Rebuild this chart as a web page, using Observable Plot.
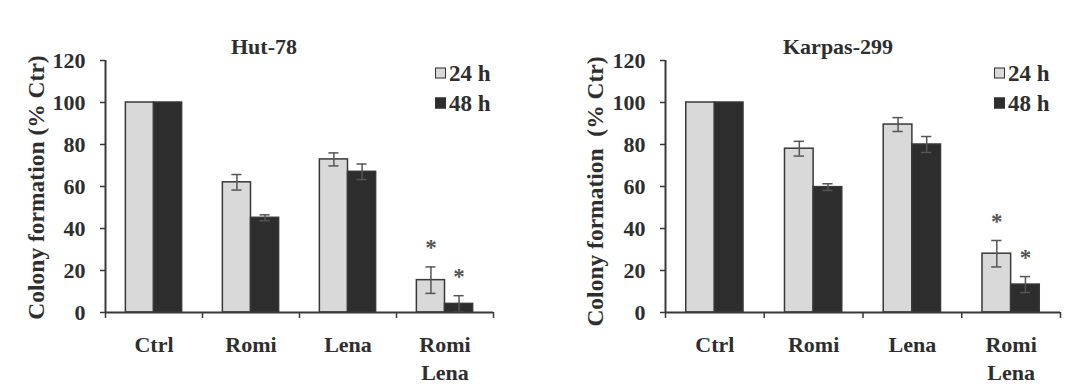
<!DOCTYPE html>
<html><head><meta charset="utf-8">
<script src="https://cdn.jsdelivr.net/npm/d3@7"></script>
<script src="https://cdn.jsdelivr.net/npm/@observablehq/plot@0.6"></script>
<style>
body{margin:0;background:#fff;}
#wrap{position:relative;width:1080px;height:384px;overflow:hidden;font-family:"Liberation Serif","DejaVu Serif",serif;font-weight:bold;color:#2e2e2e;background:#fff;}
.panel{position:absolute;top:0;width:540px;height:384px;}
.title{position:absolute;font-size:22px;transform:translate(-50%,-50%);white-space:nowrap;line-height:1;}
.leg{position:absolute;font-size:23px;display:flex;align-items:center;white-space:nowrap;transform:translateY(-50%);line-height:1;}
.sw{width:9px;height:9px;border:1.5px solid #333;margin-right:3px;}
</style></head>
<body><div id="wrap"></div>
<script>
const categories = ["Ctrl", "Romi", "Lena", "Romi\nLena"];
const seriesNames = ["24 h", "48 h"];
const yTicks = [0, 20, 40, 60, 80, 100, 120];

const hut24 = [100, 62.0, 72.9, 15.4];
const hut24Err = [0, 3.7, 3.1, 6.3];
const hut48 = [100, 45.1, 67.0, 4.1];
const hut48Err = [0, 1.4, 3.7, 3.9];
const hut24Sig = [false, false, false, true];
const hut48Sig = [false, false, false, true];

const kar24 = [100, 78.0, 89.5, 28.0];
const kar24Err = [0, 3.5, 3.3, 6.3];
const kar48 = [100, 59.7, 80.0, 13.3];
const kar48Err = [0, 1.6, 3.8, 3.8];
const kar24Sig = [false, false, false, true];
const kar48Sig = [false, false, false, true];

const FONT = '"Liberation Serif", "DejaVu Serif", serif';
const LIGHT = "#d9d9d9", DARK = "#2d2d2d", INK = "#383838", TXT = "#2e2e2e";
const W = 0.29;

function rowsFor(v24, e24, s24, v48, e48, s48) {
  const rows = [];
  categories.forEach((c, i) => {
    rows.push({cat: c, i, s: 0, value: v24[i], err: e24[i], sig: s24[i]});
    rows.push({cat: c, i, s: 1, value: v48[i], err: e48[i], sig: s48[i]});
  });
  return rows;
}
const ctr = d => d.i + 0.5 + (d.s === 0 ? -W / 2 : W / 2);

function panel(cfg) {
  const rows = rowsFor(cfg.v24, cfg.e24, cfg.s24, cfg.v48, cfg.e48, cfg.s48);
  const errRows = rows.filter(d => d.err > 0);
  const txt = {fontFamily: FONT, fontWeight: "bold", fill: TXT};
  return Plot.plot({
    width: 540, height: 384,
    marginLeft: cfg.marginLeft, marginRight: cfg.marginRight, marginTop: 60, marginBottom: 72,
    x: {type: "linear", domain: [0, 4], axis: null},
    y: {domain: [0, 120], axis: null},
    style: `font-family: ${FONT}; font-weight: bold; font-size: 21px; color: ${TXT}; background: transparent; overflow: visible;`,
    marks: [
      Plot.rectY(rows, {
        x1: d => d.i + 0.5 + (d.s === 0 ? -W : 0),
        x2: d => d.i + 0.5 + (d.s === 0 ? 0 : W),
        y1: 0, y2: "value",
        fill: d => d.s === 0 ? LIGHT : DARK,
        stroke: INK, strokeWidth: 1.5
      }),
      Plot.ruleX(errRows, {x: ctr, y1: d => d.value - d.err, y2: d => d.value + d.err, stroke: "#555", strokeWidth: 1.5}),
      Plot.ruleY(errRows, {y: d => d.value + d.err, x1: d => ctr(d) - 0.052, x2: d => ctr(d) + 0.052, stroke: "#555", strokeWidth: 1.5}),
      Plot.ruleY(errRows, {y: d => d.value - d.err, x1: d => ctr(d) - 0.052, x2: d => ctr(d) + 0.052, stroke: "#555", strokeWidth: 1.5}),
      Plot.text(rows.filter(d => d.sig), {x: ctr, y: d => d.value + d.err, text: () => "*", dy: -19, ...txt, fontSize: 23, fill: "#555"}),
      Plot.ruleX([0], {y1: 0, y2: 120, stroke: INK, strokeWidth: 2}),
      Plot.ruleY([0], {x1: 0, x2: 4, stroke: INK, strokeWidth: 2}),
      Plot.axisY({ticks: yTicks, tickSize: 5, tickFormat: () => "", label: null, stroke: INK, strokeWidth: 1.5}),
      Plot.text(yTicks, {frameAnchor: "left", y: d => d, text: d => String(d), textAnchor: "end", dx: -20, ...txt, fontSize: 22}),
      Plot.axisX({ticks: [0, 1, 2, 3, 4], tickSize: 6, tickFormat: () => "", label: null, stroke: INK, strokeWidth: 1.5}),
      Plot.text(categories, {x: (d, i) => i + 0.5, y: 0, text: d => d, lineAnchor: "top", dy: 20, lineHeight: 1.27, ...txt, fontSize: 22}),
      Plot.text([cfg.yLabel], {frameAnchor: "left", textAnchor: "middle", rotate: -90, dx: cfg.labelDx, dy: cfg.labelDy, text: d => d, ...txt, fontSize: 23.5})
    ]
  });
}

const panels = [
  {left: 0, title: "Hut-78", titleX: 264, legendX: 435, marginLeft: 105, marginRight: 47,
   yLabel: "Colony formation (% Ctr)", labelDx: -69, labelDy: 1,
   v24: hut24, e24: hut24Err, s24: hut24Sig, v48: hut48, e48: hut48Err, s48: hut48Sig},
  {left: 540, title: "Karpas-299", titleX: 838, legendX: 994, marginLeft: 125, marginRight: 20,
   yLabel: "Colony formation\u00a0 (% Ctr)", labelDx: -70, labelDy: 5,
   v24: kar24, e24: kar24Err, s24: kar24Sig, v48: kar48, e48: kar48Err, s48: kar48Sig}
];

const wrap = document.getElementById("wrap");
panels.forEach(cfg => {
  const div = document.createElement("div");
  div.className = "panel";
  div.style.left = cfg.left + "px";
  div.appendChild(panel(cfg));
  wrap.appendChild(div);

  const t = document.createElement("div");
  t.className = "title";
  t.textContent = cfg.title;
  t.style.left = cfg.titleX + "px";
  t.style.top = "47px";
  wrap.appendChild(t);

  seriesNames.forEach((name, k) => {
    const l = document.createElement("div");
    l.className = "leg";
    l.style.left = cfg.legendX + "px";
    l.style.top = (k === 0 ? 73 : 103) + "px";
    const sw = document.createElement("span");
    sw.className = "sw";
    sw.style.background = k === 0 ? LIGHT : DARK;
    l.appendChild(sw);
    l.appendChild(document.createTextNode(name));
    wrap.appendChild(l);
  });
});
</script>
</body></html>
